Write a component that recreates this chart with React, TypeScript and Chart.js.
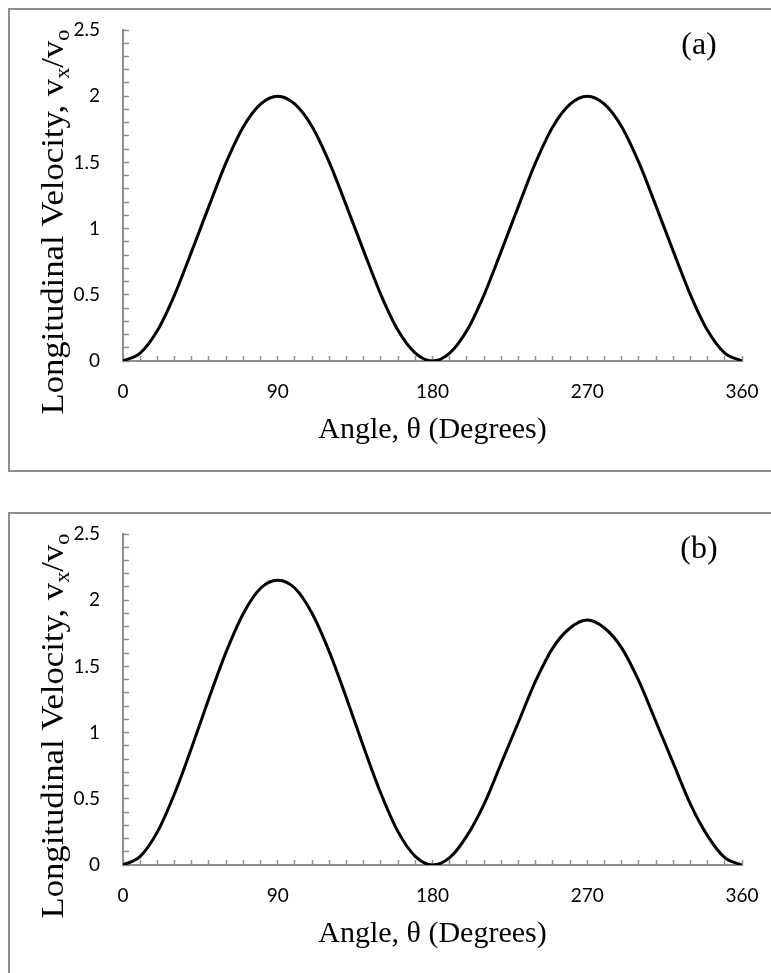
import React, { useEffect, useRef } from "react";
import { Chart, registerables } from "chart.js";

Chart.register(...registerables);

// ---- data ----
const ANGLES = [
  0, 10, 20, 30, 40, 50, 60, 70, 80, 90, 100, 110, 120, 130, 140, 150, 160, 170, 180,
  190, 200, 210, 220, 230, 240, 250, 260, 270, 280, 290, 300, 310, 320, 330, 340, 350, 360,
];
const VELOCITY_A = [
  0, 0.06, 0.23, 0.5, 0.83, 1.17, 1.5, 1.77, 1.94, 2.0, 1.94, 1.77, 1.5, 1.17, 0.83, 0.5, 0.23, 0.06, 0,
  0.06, 0.23, 0.5, 0.83, 1.17, 1.5, 1.77, 1.94, 2.0, 1.94, 1.77, 1.5, 1.17, 0.83, 0.5, 0.23, 0.06, 0,
];
const VELOCITY_B = [
  0, 0.065, 0.25, 0.54, 0.89, 1.26, 1.61, 1.9, 2.09, 2.15, 2.09, 1.9, 1.61, 1.26, 0.89, 0.54, 0.25, 0.065, 0,
  0.055, 0.22, 0.46, 0.77, 1.08, 1.39, 1.64, 1.79, 1.85, 1.79, 1.64, 1.39, 1.08, 0.77, 0.46, 0.22, 0.055, 0,
];
const X_LABELS = [0, 90, 180, 270, 360];
const Y_LABELS = [0, 0.5, 1, 1.5, 2, 2.5];
const X_MINOR_STEP = 10;
const Y_MINOR_STEP = 0.1;
const X_TITLE = "Angle, \u03B8 (Degrees)";
const Y_TITLE_PARTS = [
  { text: "Longitudinal Velocity, v", sub: false },
  { text: "x", sub: true },
  { text: "/v", sub: false },
  { text: "o", sub: true },
];

// ---- style ----
const AXIS_GRAY = "#8e8e8e";
const SERIF = '"Liberation Serif", "Times New Roman", serif';
const TICK_FONT = "Lato";
const TICK_SIZE = 19;
const TITLE_SIZE = 30;
const LETTER_SIZE = 32;
const Y_TITLE_SIZE = 31;
const SUB_SIZE = 20;
const Y_TITLE_LENGTH = 385;
const AREA_TOP = 20;
const AREA_LEFT = 113;
const AREA_RIGHT_PAD = 29;
const AREA_HEIGHT = 331;
const CANVAS_W = 761;

function textPlugin(letter: string) {
  return {
    id: "panelText",
    afterDraw(chart: any) {
      const { ctx, chartArea } = chart;
      ctx.save();
      ctx.fillStyle = "#000";
      ctx.font = `${TITLE_SIZE}px ${SERIF}`;
      ctx.textAlign = "center";
      ctx.textBaseline = "middle";
      ctx.fillText(X_TITLE, (chartArea.left + chartArea.right) / 2, chartArea.bottom + 69);
      ctx.font = `${LETTER_SIZE}px ${SERIF}`;
      ctx.fillText(letter, chartArea.right - 43, chartArea.top + 16);

      // rotated y title with subscripts
      ctx.textAlign = "left";
      ctx.textBaseline = "alphabetic";
      const widths = Y_TITLE_PARTS.map((p) => {
        ctx.font = `${p.sub ? SUB_SIZE : Y_TITLE_SIZE}px ${SERIF}`;
        return ctx.measureText(p.text).width;
      });
      const total = widths.reduce((a, b) => a + b, 0);
      const stretch = Y_TITLE_LENGTH / total;
      const cx = 42;
      const cy = chartArea.top + 192;
      ctx.translate(cx, cy);
      ctx.rotate(-Math.PI / 2);
      ctx.scale(stretch, 1);
      let x = -total / 2;
      Y_TITLE_PARTS.forEach((p, i) => {
        ctx.font = `${p.sub ? SUB_SIZE : Y_TITLE_SIZE}px ${SERIF}`;
        ctx.fillText(p.text, x, p.sub ? 17 : 11);
        x += widths[i];
      });
      ctx.restore();
    },
  };
}

function zeroPad(s: any) {
  s.paddingTop = 0;
  s.paddingBottom = 0;
  s.paddingLeft = 0;
  s.paddingRight = 0;
}

function Panel({ values, letter, height }: { values: number[]; letter: string; height: number }) {
  const ref = useRef<HTMLCanvasElement | null>(null);
  useEffect(() => {
    if (!ref.current) return;
    const chart = new Chart(ref.current, {
      type: "line",
      data: {
        datasets: [
          {
            data: ANGLES.map((a, i) => ({ x: a, y: values[i] })),
            borderColor: "#000",
            borderWidth: 3,
            pointRadius: 0,
            fill: false,
            cubicInterpolationMode: "monotone",
          },
        ],
      },
      options: {
        responsive: false,
        animation: false,
        layout: { padding: { top: AREA_TOP, right: AREA_RIGHT_PAD, left: 0, bottom: 0 } },
        plugins: { legend: { display: false }, tooltip: { enabled: false } },
        scales: {
          x: {
            type: "linear",
            min: 0,
            max: 360,
            afterFit: (s: any) => {
              s.height = height - AREA_TOP - AREA_HEIGHT;
              zeroPad(s);
            },
            grid: {
              drawOnChartArea: false,
              drawTicks: true,
              tickLength: -5,
              tickColor: AXIS_GRAY,
              tickWidth: 1.5,
            },
            border: { display: true, color: AXIS_GRAY, width: 2 },
            ticks: {
              stepSize: X_MINOR_STEP,
              autoSkip: false,
              maxRotation: 0,
              padding: 24,
              color: "#000",
              font: { family: TICK_FONT, size: TICK_SIZE },
              callback: (v: any) => (X_LABELS.includes(Number(v)) ? String(v) : ""),
            },
          },
          y: {
            type: "linear",
            min: 0,
            max: 2.5,
            afterFit: (s: any) => {
              s.width = AREA_LEFT;
              zeroPad(s);
            },
            grid: {
              drawOnChartArea: false,
              drawTicks: true,
              tickLength: -6,
              tickColor: AXIS_GRAY,
              tickWidth: 1.5,
            },
            border: { display: true, color: AXIS_GRAY, width: 2 },
            ticks: {
              stepSize: Y_MINOR_STEP,
              autoSkip: false,
              padding: 29,
              color: "#000",
              font: { family: TICK_FONT, size: TICK_SIZE },
              callback: (v: any) => {
                const n = Number(v);
                const hit = Y_LABELS.find((l) => Math.abs(l - n) < 1e-6);
                return hit === undefined ? "" : String(hit);
              },
            },
          },
        },
      },
      plugins: [textPlugin(letter)],
    } as any);
    return () => chart.destroy();
  }, [values, letter, height]);
  return <canvas ref={ref} width={CANVAS_W} height={height} style={{ display: "block" }} />;
}

export default function App() {
  return (
    <div
      style={{
        position: "fixed",
        left: 0,
        top: 0,
        width: 771,
        height: 973,
        overflow: "hidden",
        background: "#fff",
      }}
    >
      <div
        style={{
          position: "absolute",
          left: 8,
          top: 8,
          width: 800,
          height: 464,
          boxSizing: "border-box",
          borderTop: `2px solid ${AXIS_GRAY}`,
          borderLeft: `2px solid ${AXIS_GRAY}`,
          borderBottom: `2px solid ${AXIS_GRAY}`,
        }}
      />
      <div style={{ position: "absolute", left: 10, top: 10 }}>
        <Panel values={VELOCITY_A} letter="(a)" height={460} />
      </div>
      <div
        style={{
          position: "absolute",
          left: 8,
          top: 512,
          width: 800,
          height: 500,
          boxSizing: "border-box",
          borderTop: `2px solid ${AXIS_GRAY}`,
          borderLeft: `2px solid ${AXIS_GRAY}`,
        }}
      />
      <div style={{ position: "absolute", left: 10, top: 514 }}>
        <Panel values={VELOCITY_B} letter="(b)" height={459} />
      </div>
    </div>
  );
}
